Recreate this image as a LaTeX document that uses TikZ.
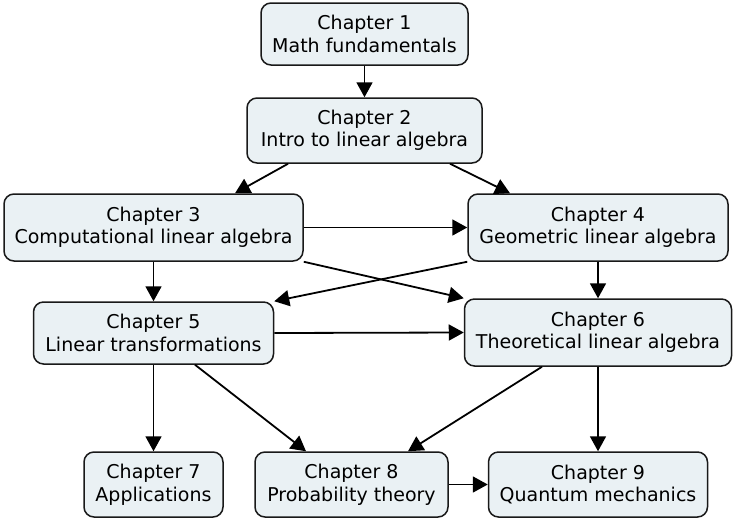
\documentclass[tikz,border=0pt]{standalone}
\usepackage{fontspec}
\setmainfont{DejaVu Sans}
\usepackage{tikz}
\usepackage{xcolor}
\usetikzlibrary{arrows.meta,shapes}

\definecolor{boxfill}{RGB}{234,241,244}

\begin{document}
\begin{tikzpicture}[x=1pt, y=-1pt,
    chapter/.style={draw=black!90, line width=1.5pt, fill=boxfill, rounded corners=10pt,
        align=center, inner sep=0pt, minimum height=65pt,
        font=\fontsize{19}{22.5}\selectfont},
    link/.style={line width=1.8pt, -{Triangle[length=15pt,width=16pt]}}]
    \useasboundingbox (0,0) rectangle (735,522);

    % Chapters, top to bottom
    \node[chapter, minimum width=207pt, minimum height=62pt] (ch1) at (364.5,34) {Chapter 1\\Math fundamentals};
    \node[chapter, minimum width=235pt] (ch2) at (364.5,130.5) {Chapter 2\\Intro to linear algebra};
    \node[chapter, minimum width=299pt, minimum height=67pt] (ch3) at (153.5,227.5) {Chapter 3\\Computational linear algebra};
    \node[chapter, minimum width=260pt, minimum height=67pt] (ch4) at (598,227.5) {Chapter 4\\Geometric linear algebra};
    \node[chapter, minimum width=240pt, minimum height=62pt] (ch5) at (153.5,333) {Chapter 5\\Linear transformations};
    \node[chapter, minimum width=267pt, minimum height=67pt] (ch6) at (598,332.5) {Chapter 6\\Theoretical linear algebra};
    \node[chapter, minimum width=139pt] (ch7) at (153.5,484.5) {Chapter 7\\Applications};
    \node[chapter, minimum width=193pt] (ch8) at (351.5,484.5) {Chapter 8\\Probability theory};
    \node[chapter, minimum width=219pt] (ch9) at (598,484.5) {Chapter 9\\Quantum mechanics};

    % Dependencies
    \draw[link] (ch1.south) -- (ch2.north);
    \draw[link] ([xshift=-76.5pt]ch2.south) -- ([xshift=81.5pt]ch3.north);
    \draw[link] ([xshift=85.5pt]ch2.south) -- ([xshift=-88pt]ch4.north);
    \draw[link] (ch3.east) -- (ch4.west);
    \draw[link] (ch3.south) -- (ch5.north);
    \draw[link] (ch3.south east) -- (ch6.north west);
    \draw[link] (ch4.south west) -- (ch5.north east);
    \draw[link] (ch4.south) -- (ch6.north);
    \draw[link] (ch5.east) -- (ch6.west);
    \draw[link] (ch5.south) -- (ch7.north);
    \draw[link] ([xshift=41.5pt]ch5.south) -- ([xshift=-45.5pt]ch8.north);
    \draw[link] ([xshift=-56pt]ch6.south) -- ([xshift=56.5pt]ch8.north);
    \draw[link] (ch6.south) -- (ch9.north);
    \draw[link] (ch8.east) -- (ch9.west);
\end{tikzpicture}
\end{document}
